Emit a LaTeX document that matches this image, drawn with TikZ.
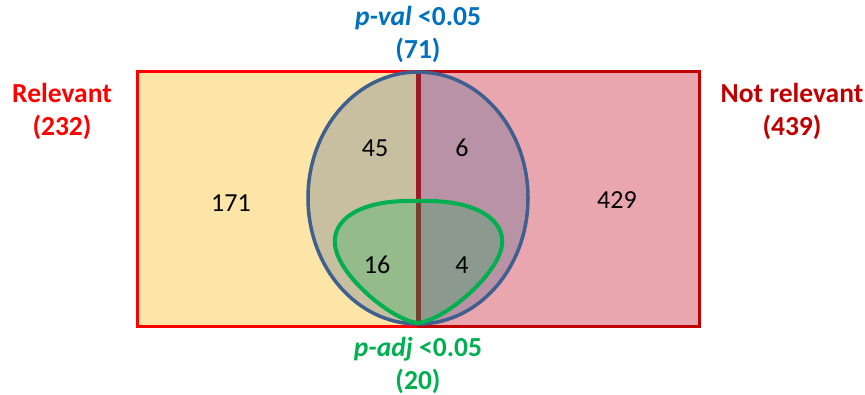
\documentclass[tikz,border=0pt]{standalone}
\usepackage{fontspec}
\setmainfont{Carlito}
\usetikzlibrary{positioning}
\definecolor{relred}{HTML}{FF0000}
\definecolor{notred}{HTML}{C00000}
\definecolor{pvalblue}{HTML}{0070C0}
\definecolor{padjgreen}{HTML}{00B050}
\definecolor{relfill}{HTML}{FCE5A6}
\definecolor{notfill}{HTML}{EAA6AE}
\definecolor{ellblue}{HTML}{3F5F8F}
\tikzset{
  setlab/.style={font=\fontsize{27.5}{33}\selectfont\bfseries, align=center, inner sep=0pt},
  cnt/.style={font=\fontsize{26}{30}\selectfont, text=black, inner sep=0pt},
}
\begin{document}
\begin{tikzpicture}[x=1pt,y=-1pt]
    \useasboundingbox (0,0) rectangle (865,395);
    % the two halves
    \fill[relfill] (137,72) rectangle (418,327);
    \fill[notfill] (418,72) rectangle (699,327);
    \draw[relred, line width=3pt] (418,72) -- (137,72) -- (137,327) -- (418,327);
    \draw[notred, line width=3pt] (418,72) -- (699,72) -- (699,327) -- (418,327);
    \draw[notred, line width=5pt] (418,73) -- (418,326);
    % p-val set
    \fill[ellblue, fill opacity=0.28] (418,198) ellipse [x radius=110, y radius=126];
    \draw[ellblue, line width=3.5pt] (418,198) ellipse [x radius=110, y radius=126];
    % p-adj set
    \draw[padjgreen, line width=4pt, fill=padjgreen, fill opacity=0.25]
      (418,201) .. controls (480,199) and (505,222) .. (502,245)
      .. controls (498,275) and (445,320) .. (418,323)
      .. controls (391,320) and (338,275) .. (335,245)
      .. controls (332,222) and (356,199) .. (418,201) -- cycle;
    % labels
    \node[setlab, text=relred] (rel) at (62,111) {Relevant\\(232)};
    \node[setlab, text=notred] (notrel) at (792,111) {Not relevant\\(439)};
    \node[setlab, text=pvalblue] (pval) at (418,34) {\textit{p-val} <0.05\\(71)};
    \node[setlab, text=padjgreen] (padj) at (418,365) {\textit{p-adj} <0.05\\(20)};
    % counts
    \node[cnt] (n171) at (231,203) {171};
    \node[cnt] (n45) at (375,148) {45};
    \node[cnt] (n6) at (462,148) {6};
    \node[cnt] (n429) at (617,200) {429};
    \node[cnt] (n16) at (377,265) {16};
    \node[cnt] (n4) at (462,265) {4};
  \end{tikzpicture}
\end{document}
